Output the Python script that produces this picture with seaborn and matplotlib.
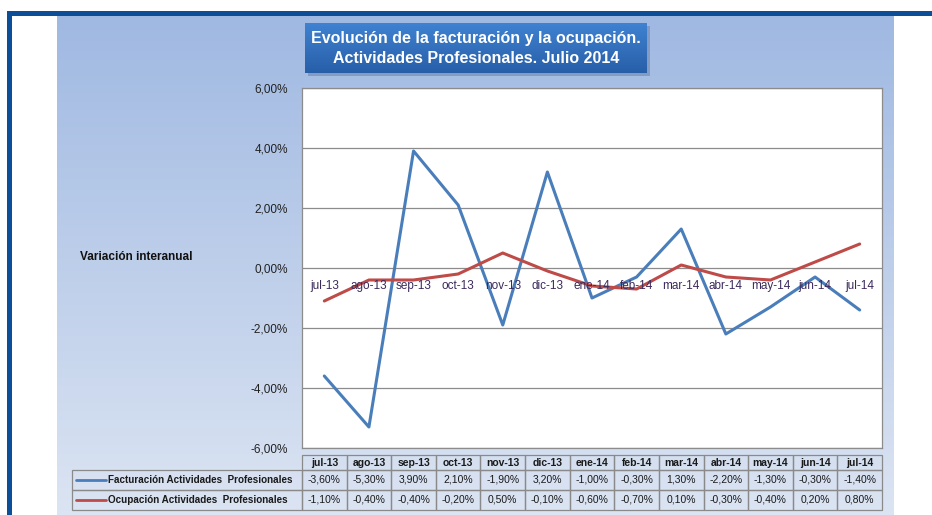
import numpy as np
import pandas as pd
import matplotlib
matplotlib.use("Agg")
import matplotlib.pyplot as plt
from matplotlib.patches import Rectangle
from matplotlib.lines import Line2D
import seaborn as sns

categories = ["jul-13", "ago-13", "sep-13", "oct-13", "nov-13", "dic-13", "ene-14",
              "feb-14", "mar-14", "abr-14", "may-14", "jun-14", "jul-14"]
facturacion = [-3.6, -5.3, 3.9, 2.1, -1.9, 3.2, -1.0, -0.3, 1.3, -2.2, -1.3, -0.3, -1.4]
ocupacion = [-1.1, -0.4, -0.4, -0.2, 0.5, -0.1, -0.6, -0.7, 0.1, -0.3, -0.4, 0.2, 0.8]
series_names = ["Facturación Actividades  Profesionales", "Ocupación Actividades  Profesionales"]
yticks = [-6, -4, -2, 0, 2, 4, 6]
title = "Evolución de la facturación y la ocupación.\nActividades Profesionales. Julio 2014"
ylabel = "Variación interanual"

sns.set_theme(style="white")
plt.rcParams['font.family'] = ['Liberation Sans', 'DejaVu Sans']

W, H = 932, 515
fig = plt.figure(figsize=(W / 100, H / 100), dpi=100)
fig.patch.set_facecolor("white")

def fr(x0, y0, x1, y1):
    return [x0 / W, 1 - y1 / H, (x1 - x0) / W, (y1 - y0) / H]

bg = fig.add_axes([0, 0, 1, 1], zorder=0)
bg.axis("off")

# panel gradient
grad = np.linspace(0, 1, 256).reshape(-1, 1)
top_c = np.array([0.627, 0.725, 0.886])
bot_c = np.array([0.860, 0.895, 0.950])
img = top_c[None, None, :] * (1 - grad[:, :, None]) + bot_c[None, None, :] * grad[:, :, None]
bg.imshow(img, extent=[57, 894, 515, 16], aspect="auto", zorder=0)
# dark blue border
bg.add_patch(Rectangle((7, 11), W - 7, 5, color="#0d4e98", zorder=2, lw=0))
bg.add_patch(Rectangle((7, 11), 5, H - 11, color="#0d4e98", zorder=2, lw=0))

# title box with shadow
bg.add_patch(Rectangle((308, 26), 342, 50, color="#6f86ad", alpha=0.6, zorder=2, lw=0))
tgrad = np.linspace(0, 1, 128).reshape(-1, 1)
tc1 = np.array([0.247, 0.510, 0.820])
tc2 = np.array([0.157, 0.370, 0.660])
timg = tc1[None, None, :] * (1 - tgrad[:, :, None]) + tc2[None, None, :] * tgrad[:, :, None]
bg.imshow(timg, extent=[305, 647, 73, 23], aspect="auto", zorder=3)
bg.set_xlim(0, W)
bg.set_ylim(H, 0)
bg.text(476, 48.5, title, ha="center", va="center", color="white", fontsize=11.5,
        fontweight="bold", linespacing=1.45, zorder=4)

bg.text(80, 257, ylabel, ha="left", va="center", fontsize=8.5, fontweight="bold",
        color="#111111", zorder=4)

# main plot
ax = fig.add_axes(fr(302, 88, 882, 448), zorder=2)
ax.set_facecolor("white")
df = pd.DataFrame({
    "x": list(range(len(categories))) * 2,
    "val": facturacion + ocupacion,
    "serie": [series_names[0]] * len(categories) + [series_names[1]] * len(categories),
})
palette = {series_names[0]: "#4a7ebb", series_names[1]: "#be4b48"}
sns.lineplot(data=df, x="x", y="val", hue="serie", palette=palette, linewidth=2.2,
             ax=ax, legend=False, zorder=3)
ax.set_xlim(-0.5, len(categories) - 0.5)
ax.set_ylim(-6, 6)
ax.set_yticks(yticks)
ax.set_yticklabels([f"{v:.2f}%".replace(".", ",") for v in yticks], fontsize=8.5, color="#222222")
ax.tick_params(axis="y", length=0, pad=10)
ax.set_xticks([])
ax.set_xlabel("")
ax.set_ylabel("")
for v in yticks:
    ax.axhline(v, color="#8c8c8c", lw=0.9, zorder=1)
for s in ax.spines.values():
    s.set_color("#8c8c8c")
    s.set_linewidth(0.9)
for i, c in enumerate(categories):
    ax.text(i, -0.6, c, ha="center", va="center", fontsize=8.5, color="#3b2a5c", zorder=4)

# data table
n = len(categories)
cw = (882 - 302) / n
x_left = 72
rows_y = [455, 470, 490, 510]
lc = "#8a8a8a"
for i, c in enumerate(categories):
    x0 = 302 + i * cw
    bg.add_patch(Rectangle((x0, rows_y[0]), cw, rows_y[1] - rows_y[0], fill=False,
                           ec=lc, lw=0.9, zorder=5))
    bg.text(x0 + cw / 2, (rows_y[0] + rows_y[1]) / 2 + 0.5, c, ha="center", va="center",
            fontsize=7.5, fontweight="bold", color="#1a1a1a", zorder=6)
series_vals = [facturacion, ocupacion]
for r in range(2):
    y0, y1 = rows_y[r + 1], rows_y[r + 2]
    ym = (y0 + y1) / 2
    bg.add_patch(Rectangle((x_left, y0), 302 - x_left, y1 - y0, fill=False, ec=lc,
                           lw=0.9, zorder=5))
    bg.add_line(Line2D([76, 106], [ym, ym], color=palette[series_names[r]], lw=2.0, zorder=6))
    bg.text(108, ym, series_names[r], ha="left", va="center", fontsize=7.1,
            fontweight="bold", color="#1a1a1a", zorder=6)
    for i, v in enumerate(series_vals[r]):
        x0 = 302 + i * cw
        bg.add_patch(Rectangle((x0, y0), cw, y1 - y0, fill=False, ec=lc, lw=0.9, zorder=5))
        bg.text(x0 + cw / 2, ym, f"{v:.2f}%".replace(".", ","), ha="center", va="center",
                fontsize=7.5, color="#1a1a1a", zorder=6)

fig.savefig("out.png", dpi=100)
